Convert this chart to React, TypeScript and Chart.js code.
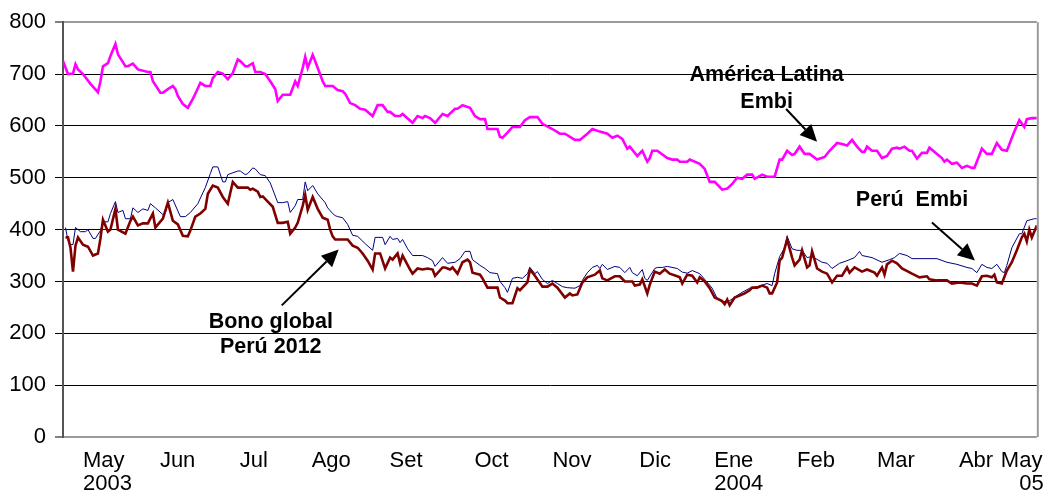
import React, { useEffect, useRef } from "react";
import { Chart, registerables } from "chart.js";

Chart.register(...registerables);

// x = trading-day position along the axis (0 = start of series, 390 = end), y = spread in basis points
const latamX = [0,2,4,5,6,8,11,14,15,16,18,19,21,22,25,26,28,30,34,35,36,39,40,42,44,45,46,48,50,52,53,55,57,59,60,62,64,66,68,70,71,73,74,76,77,79,81,83,85,86,88,91,93,94,96,97,98,100,102,104,105,108,110,112,113,115,117,119,121,124,126,128,130,131,133,135,136,140,142,144,145,147,149,152,154,157,158,160,163,165,167,169,170,174,175,176,178,180,183,185,187,190,192,196,199,201,205,207,210,212,215,218,220,222,224,226,227,230,232,234,235,236,238,242,244,246,247,250,251,255,257,259,261,264,266,268,270,272,274,276,277,280,282,285,287,288,290,292,293,295,297,299,302,305,307,310,312,314,316,318,320,321,322,324,326,328,330,332,334,335,337,339,340,342,344,346,347,350,352,353,354,356,358,360,362,364,365,368,370,372,374,376,378,381,383,385,386,388,390];
const latamY = [725,700,701,719,709,700,681,665,686,715,721,735,758,738,715,715,720,709,704,704,686,664,664,671,677,671,658,642,635,652,662,683,677,677,692,704,701,690,702,728,725,715,715,721,704,704,700,686,671,648,660,660,686,677,712,733,712,737,712,686,677,677,669,667,662,644,640,633,631,619,640,640,627,627,619,619,623,606,619,615,619,615,606,623,619,633,633,640,635,619,613,613,594,594,579,577,587,598,598,611,617,617,604,594,585,585,573,573,585,594,589,585,577,581,575,556,560,542,552,531,538,552,552,538,535,535,531,531,535,527,517,492,492,477,479,488,500,498,506,506,498,506,502,502,535,535,552,544,546,560,546,546,535,540,552,567,565,562,573,560,550,550,560,552,552,538,542,556,558,556,560,552,552,537,548,548,558,546,538,531,535,527,529,519,523,519,519,556,546,546,567,554,552,589,611,598,613,615,615];

const peruEmbiX = [1,2,3,4,5,7,9,10,12,13,15,16,18,19,21,22,24,25,27,28,30,32,34,35,37,40,41,42,44,47,49,51,54,56,57,59,60,62,64,65,66,70,71,73,74,76,77,79,81,83,86,88,90,91,93,94,96,97,98,100,102,105,106,108,109,110,112,114,116,118,121,124,125,128,129,131,132,134,135,136,138,140,144,146,148,149,152,154,157,159,161,163,164,167,169,171,174,175,177,178,180,182,184,186,187,189,190,192,194,196,198,200,202,205,207,208,210,212,214,215,216,218,221,223,225,227,228,230,232,233,234,237,238,240,242,246,248,250,252,255,257,260,262,264,267,270,272,275,278,282,284,285,287,289,290,292,294,296,298,300,304,306,308,311,314,317,319,320,324,328,331,333,335,338,340,344,350,354,358,362,364,366,368,370,372,374,376,377,378,380,383,384,386,389,390];
const peruEmbiY = [404,379,371,371,404,396,396,400,383,383,398,415,415,431,454,433,437,421,421,442,433,440,437,450,442,429,433,452,458,425,425,433,450,471,481,508,521,521,492,492,506,513,513,506,508,519,517,506,504,490,452,452,454,433,446,458,458,492,475,485,469,452,442,431,427,425,423,410,389,387,373,360,385,385,371,387,381,383,375,381,363,350,350,346,340,329,346,335,337,344,358,358,342,331,325,317,315,300,288,279,306,308,306,315,327,315,319,304,296,302,296,290,288,287,292,302,317,327,331,325,333,323,329,327,317,327,317,311,323,306,302,325,327,327,329,325,318,316,321,315,304,287,267,260,263,273,279,287,290,296,292,315,348,365,387,363,360,360,346,348,337,335,325,335,340,346,358,350,346,337,342,346,354,350,344,344,344,337,333,327,325,317,333,327,325,333,319,317,331,365,392,392,417,421,421];

const bonoX = [1,2,3,4,5,6,8,10,12,14,15,16,18,19,21,22,25,27,28,30,32,34,36,37,40,42,44,46,48,50,51,53,55,57,58,60,62,64,66,68,70,74,75,76,78,79,80,82,84,86,88,90,91,93,94,96,97,98,100,102,104,106,107,108,109,111,114,116,118,120,122,124,125,127,129,131,132,134,135,136,139,140,142,144,146,148,149,152,153,155,156,158,160,162,163,164,167,168,170,174,175,177,178,180,182,183,186,187,189,192,194,196,198,201,203,204,206,208,210,213,215,216,218,221,223,225,228,229,231,232,234,235,237,239,241,243,246,247,248,250,252,254,255,257,259,261,264,265,266,267,269,271,273,275,276,278,280,282,283,284,286,287,288,290,292,293,295,296,298,299,300,302,304,306,308,310,312,314,315,317,320,322,325,326,328,329,330,332,334,336,340,343,346,347,350,354,356,359,362,364,366,368,370,372,373,374,376,378,380,382,384,385,386,387,388,390];
const bonoY = [385,385,365,319,369,385,371,367,350,354,383,419,396,400,440,400,392,417,425,408,412,412,431,404,421,452,417,410,388,387,398,425,431,440,469,485,481,463,450,492,481,481,477,479,473,463,464,454,444,413,413,415,392,404,413,446,467,438,463,440,423,419,400,387,381,381,381,369,365,354,340,323,354,354,325,346,342,354,335,350,323,315,325,323,325,323,311,327,327,323,327,315,337,342,337,317,313,306,288,288,269,263,258,258,287,283,298,323,311,290,290,296,288,269,277,273,275,298,308,313,321,306,302,310,310,300,300,292,294,304,277,294,319,315,323,315,310,308,296,313,311,298,308,300,287,269,262,256,265,254,269,273,277,283,288,288,292,288,277,277,298,340,346,381,346,331,342,360,327,331,358,325,319,315,298,311,311,327,317,327,319,323,317,311,327,313,333,340,335,325,315,308,310,304,302,302,296,298,296,296,292,310,311,308,313,298,296,321,337,360,385,392,377,400,385,408];

// category (tick) labels along the time axis
const tickPositions = [8, 38.8, 70.8, 99.6, 130.8, 164.8, 196, 230.8, 260.8, 294, 326, 358.8, 375.6];
const monthLabels = ["May", "Jun", "Jul", "Ago", "Set", "Oct", "Nov", "Dic", "Ene", "Feb", "Mar", "Abr", "May"];
const yearLabels = ["2003", "", "", "", "", "", "", "", "2004", "", "", "", "05"];

const seriesNames = ["América Latina Embi", "Perú Embi", "Bono global Perú 2012"];

// annotation texts and arrows, positioned in data units
const annotationTexts = [
  { lines: ["América Latina", "Embi"], x: 281.8, y: [686.5, 634.6] },
  { lines: ["Perú  Embi"], x: 340, y: [446] },
  { lines: ["Bono global", "Perú 2012"], x: 83.2, y: [209.6, 161.5] },
];
const annotationArrows = [
  { from: [289.6, 632.7], to: [302, 569.2] },
  { from: [348, 413.5], to: [365.2, 340.4] },
  { from: [87.6, 253.8], to: [110.4, 361.5] },
];

const FONT = "Arial, 'Liberation Sans', sans-serif";

const zip = (xs: number[], ys: number[]) => xs.map((x, i) => ({ x, y: ys[i] }));

const annotationPlugin = {
  id: "annotationsAndFrame",
  afterDatasetsDraw(chart: any) {
    const { ctx, chartArea, scales } = chart;
    const xs = scales.x;
    const ys = scales.y;
    ctx.save();
    // right frame line
    ctx.strokeStyle = "#9a9a9a";
    ctx.lineWidth = 2;
    ctx.beginPath();
    ctx.moveTo(chartArea.right + 1, chartArea.top);
    ctx.lineTo(chartArea.right + 1, chartArea.bottom);
    ctx.stroke();

    // texts
    ctx.fillStyle = "#000";
    ctx.font = `bold 21.5px ${FONT}`;
    ctx.textAlign = "center";
    ctx.textBaseline = "alphabetic";
    annotationTexts.forEach((t) => {
      t.lines.forEach((line, i) => {
        ctx.fillText(line, xs.getPixelForValue(t.x), ys.getPixelForValue(t.y[i]));
      });
    });

    // arrows
    ctx.strokeStyle = "#000";
    ctx.lineWidth = 2;
    annotationArrows.forEach((a) => {
      const x1 = xs.getPixelForValue(a.from[0]);
      const y1 = ys.getPixelForValue(a.from[1]);
      const x2 = xs.getPixelForValue(a.to[0]);
      const y2 = ys.getPixelForValue(a.to[1]);
      const ang = Math.atan2(y2 - y1, x2 - x1);
      const headLen = 17;
      const headW = 8;
      const bx = x2 - headLen * Math.cos(ang);
      const by = y2 - headLen * Math.sin(ang);
      ctx.beginPath();
      ctx.moveTo(x1, y1);
      ctx.lineTo(bx, by);
      ctx.stroke();
      ctx.beginPath();
      ctx.moveTo(x2, y2);
      ctx.lineTo(bx + headW * Math.sin(ang), by - headW * Math.cos(ang));
      ctx.lineTo(bx - headW * Math.sin(ang), by + headW * Math.cos(ang));
      ctx.closePath();
      ctx.fill();
    });
    ctx.restore();
  },
};

export default function App() {
  const canvasRef = useRef<HTMLCanvasElement | null>(null);

  useEffect(() => {
    const canvas = canvasRef.current;
    if (!canvas) return;
    const lastIndex = monthLabels.length - 1;
    const chart = new Chart(canvas, {
      type: "line",
      data: {
        datasets: [
          {
            label: seriesNames[2],
            data: zip(bonoX, bonoY),
            borderColor: "#800000",
            borderWidth: 2.6,
            pointRadius: 0,
            tension: 0,
            order: 0,
          },
          {
            label: seriesNames[1],
            data: zip(peruEmbiX, peruEmbiY),
            borderColor: "#000080",
            borderWidth: 1,
            pointRadius: 0,
            tension: 0,
            order: 1,
          },
          {
            label: seriesNames[0],
            data: zip(latamX, latamY),
            borderColor: "#ff00ff",
            borderWidth: 2.6,
            pointRadius: 0,
            tension: 0,
            order: 2,
          },
        ],
      },
      options: {
        animation: false,
        responsive: true,
        maintainAspectRatio: false,
        layout: { padding: { left: 0, right: 9, top: 21, bottom: 0 } },
        plugins: {
          legend: { display: false },
          tooltip: { enabled: false },
        },
        scales: {
          x: {
            type: "linear",
            min: 0,
            max: 390,
            grid: { display: false },
            border: { display: false },
            afterFit: (scale: any) => {
              scale.height = 65;
            },
            afterBuildTicks: (scale: any) => {
              scale.ticks = tickPositions.map((v) => ({ value: v }));
            },
            ticks: {
              autoSkip: false,
              maxRotation: 0,
              minRotation: 0,
              align: "start",
              padding: 4,
              color: "#000",
              font: { family: FONT, size: 22, lineHeight: 1.05 },
              callback: (value: any, index: number) => {
                if (!yearLabels[index]) return monthLabels[index];
                // the final sub-label sits flush right under its month, as in the original
                const year = index === lastIndex ? "   " + yearLabels[index] : yearLabels[index];
                return [monthLabels[index], year];
              },
            },
          },
          y: {
            min: 0,
            max: 800,
            afterFit: (scale: any) => {
              scale.width = 63;
            },
            ticks: {
              stepSize: 100,
              padding: 9,
              color: "#000",
              font: { family: FONT, size: 22 },
            },
            grid: {
              color: (c: any) => (c.tick && (c.tick.value === 0 || c.tick.value === 800) ? "#9a9a9a" : "#000"),
              lineWidth: (c: any) => (c.tick && (c.tick.value === 0 || c.tick.value === 800) ? 2 : 1),
              tickColor: "#000",
              tickLength: 8,
              tickWidth: 1,
            },
            border: { display: true, color: "#555", width: 2 },
          },
        },
      },
      plugins: [annotationPlugin],
    } as any);
    return () => chart.destroy();
  }, []);

  return (
    <div style={{ position: "absolute", left: 0, top: 0, width: 1048, height: 502, background: "#fff" }}>
      <canvas ref={canvasRef} />
    </div>
  );
}
